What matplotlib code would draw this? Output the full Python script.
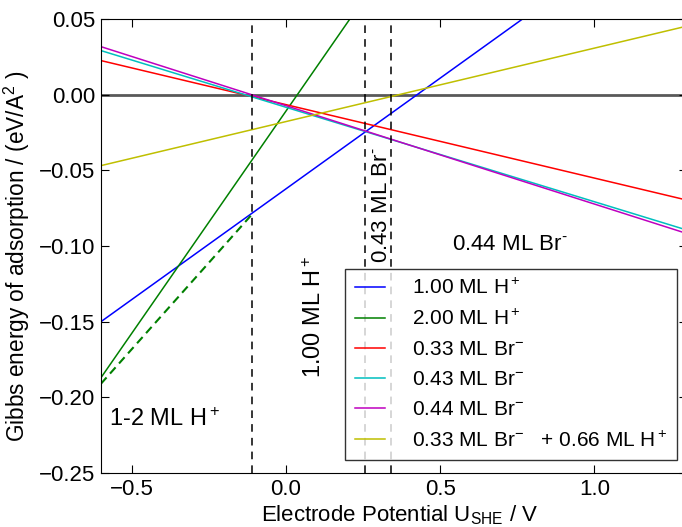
import matplotlib
matplotlib.use('Agg')
import matplotlib.pyplot as plt

# Dane: wartości na krańcach osi x
x_ends = [-0.6, 1.3]

labels = [r'1.00 ML H$^+$', r'2.00 ML H$^+$', r'0.33 ML Br$^{-}$',
          r'0.43 ML Br$^{-}$', r'0.44 ML Br$^{-}$',
          r'0.33 ML Br$^{-}$   + 0.66 ML H$^+$']
colors = ['b', 'g', 'r', 'c', 'm', 'y']

h100 = [-0.150, 0.128]
h200 = [-0.187, 0.371]
br033 = [0.0225, -0.0697]
br043 = [0.0291, -0.0895]
br044 = [0.0317, -0.0918]
br033_h066 = [-0.0469, 0.0453]
series = [h100, h200, br033, br043, br044, br033_h066]

# przerywana linia 1-2 ML H+
dash_x = [-0.6, -0.11]
dash_y = [-0.191, -0.079]

# granice obszarów stabilności
borders = [-0.11, 0.255, 0.34]

plt.rcParams['font.family'] = ['Liberation Sans', 'DejaVu Sans']
plt.rcParams['mathtext.fontset'] = 'custom'
plt.rcParams['mathtext.rm'] = 'Liberation Sans'
plt.rcParams['mathtext.it'] = 'Liberation Sans:italic'

fig = plt.figure(figsize=(6.82, 5.27), dpi=100)
ax = fig.add_axes([0.1481, 0.1025, 0.8592, 0.8615])

for ys, lab, col in zip(series, labels, colors):
    ax.plot(x_ends, ys, color=col, lw=1.1, label=lab)

ax.plot(dash_x, dash_y, color='g', lw=1.5, ls='--', dashes=(4, 2.5))
ax.axhline(0, color='0.35', lw=2, zorder=1)
for b in borders:
    ax.axvline(b, color='k', lw=1.1, ls='--', dashes=(5, 4))

ax.text(-0.575, -0.219, r'1-2 ML H$^+$', fontsize=17)
ax.text(0.092, -0.147, r'1.00 ML H$^+$', fontsize=17, rotation=90,
        ha='center', va='center')
ax.text(0.308, -0.073, r'0.43 ML Br$^{\text{-}}$', fontsize=16, rotation=90,
        ha='center', va='center')
ax.text(0.727, -0.099, r'0.44 ML Br$^{\text{-}}$', fontsize=16,
        ha='center', va='center')

ax.set_xlim(-0.6, 1.3)
ax.set_ylim(-0.25, 0.05)
ax.set_xticks([-0.5, 0.0, 0.5, 1.0])
ax.set_yticks([-0.25, -0.20, -0.15, -0.10, -0.05, 0.00, 0.05])
ax.tick_params(direction='in', top=True, right=True, length=6,
               labelsize=16, pad=4)
ax.set_xlabel(r'Electrode Potential U$_{\mathrm{SHE}}$ / V', fontsize=16)
ax.xaxis.set_label_coords(0.51, -0.068)
ax.set_ylabel(r'Gibbs energy of adsorption / (eV/A$^2$ )', fontsize=16.3)
ax.yaxis.set_label_coords(-0.118, 0.476)

leg = ax.legend(loc='lower right', bbox_to_anchor=(0.983, 0.0286),
                fontsize=15, frameon=True, fancybox=False,
                handlelength=1.45, handletextpad=1.3, labelspacing=0.53,
                borderpad=0.45, borderaxespad=0)
leg.get_frame().set_edgecolor('k')
leg.get_frame().set_linewidth(1)

fig.savefig('out.png', dpi=100)
